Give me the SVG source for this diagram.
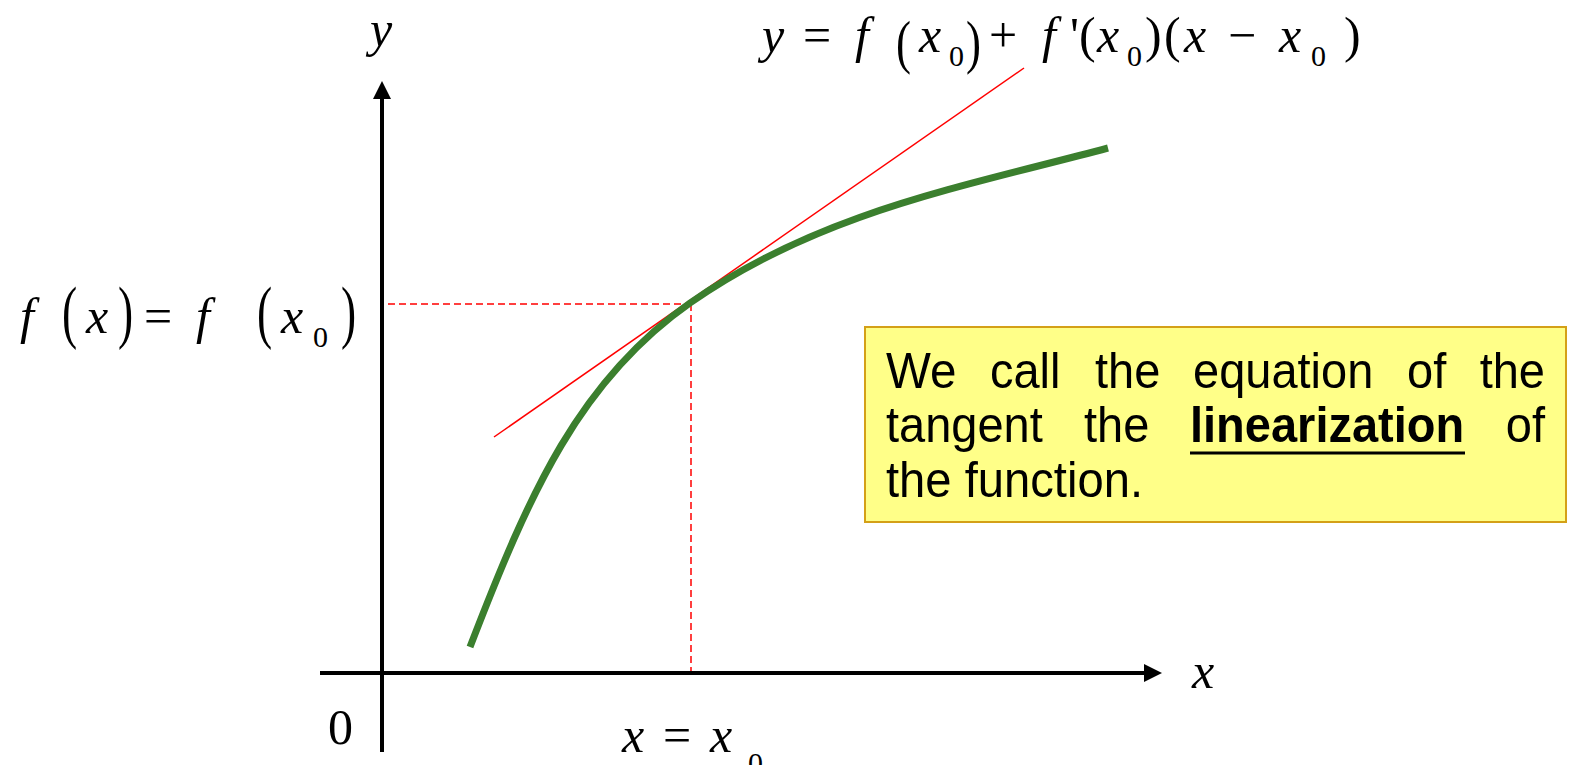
<svg xmlns="http://www.w3.org/2000/svg" width="1572" height="765" viewBox="0 0 1572 765">
<style>
.m{font-family:"Liberation Serif",serif;font-style:italic;font-size:50px;fill:#000}
.u{font-family:"Liberation Serif",serif;font-size:50px;fill:#000}
.s{font-family:"Liberation Serif",serif;font-size:30px;fill:#000}
.bp{font-family:"Liberation Serif",serif;font-size:60px;fill:#000}
.bl{font-family:"Liberation Serif",serif;font-size:70px;fill:#000}
.t{font-family:"Liberation Sans",Arial,sans-serif;font-size:50px;fill:#000}
.axis{stroke:#000;stroke-width:4;fill:none}
.dash{stroke:#FF0000;stroke-width:1.5;stroke-dasharray:7,4;fill:none}
</style>
<rect width="1572" height="765" fill="#fff"/>
<g id="axes">
<line class="axis" x1="382" y1="752" x2="382" y2="95"/>
<polygon points="382,81 373,99 391,99" fill="#000"/>
<line class="axis" x1="320" y1="673" x2="1147" y2="673"/>
<polygon points="1162,673 1144,664 1144,682" fill="#000"/>
</g>
<g id="guides">
<line class="dash" x1="388" y1="304" x2="691" y2="304"/>
<line class="dash" x1="691" y1="304" x2="691" y2="671"/>
</g>
<g id="tangent">
<line x1="494" y1="437" x2="1024" y2="68" stroke="#FF0000" stroke-width="1.5"/>
</g>
<g id="curve">
<path d="M470,647 C530,491 580,380 690,303 C820,212.5 958,188 1108,148" fill="none" stroke="#3B7F2E" stroke-width="7"/>
</g>
<g id="labels">
<text class="m" x="370" y="46">y</text>
<text class="m" x="1192" y="688">x</text>
<text class="u" x="328" y="744">0</text>
<text class="m" x="622" y="752">x</text>
<text class="u" x="663" y="752">=</text>
<text class="m" x="710" y="752">x</text>
<text class="s" x="748" y="773">0</text>
</g>
<g id="eq-left">
<text class="m" x="20" y="333">f</text>
<text class="bl" transform="translate(62,335) scale(0.65,1)">(</text>
<text class="m" x="86" y="333">x</text>
<text class="bl" transform="translate(118,335) scale(0.65,1)">)</text>
<text class="u" x="144" y="333">=</text>
<text class="m" x="196" y="333">f</text>
<text class="bl" transform="translate(257,335) scale(0.65,1)">(</text>
<text class="m" x="281" y="333">x</text>
<text class="s" x="313" y="347">0</text>
<text class="bl" transform="translate(341,335) scale(0.65,1)">)</text>
</g>
<g id="eq-top">
<text class="m" x="762" y="52">y</text>
<text class="u" x="803" y="52">=</text>
<text class="m" x="855" y="52">f</text>
<text class="bp" transform="translate(896,62) scale(0.75,1)">(</text>
<text class="m" x="919" y="52">x</text>
<text class="s" x="949" y="66">0</text>
<text class="bp" transform="translate(966,62) scale(0.75,1)">)</text>
<text class="u" x="989" y="52">+</text>
<text class="m" x="1042" y="52">f</text>
<text class="u" x="1070" y="52">'</text>
<text class="u" x="1079" y="52">(</text>
<text class="m" x="1097" y="52">x</text>
<text class="s" x="1127" y="66">0</text>
<text class="u" x="1145" y="52">)</text>
<text class="u" x="1164" y="52">(</text>
<text class="m" x="1184" y="52">x</text>
<text class="u" x="1228" y="52">−</text>
<text class="m" x="1279" y="52">x</text>
<text class="s" x="1311" y="66">0</text>
<text class="u" x="1344" y="52">)</text>
</g>
<g id="note">
<rect x="865" y="327" width="701" height="195" fill="#FFFF88" stroke="#D4A017" stroke-width="2"/>
<text class="t" x="886" y="388" textLength="70.5" lengthAdjust="spacingAndGlyphs">We</text>
<text class="t" x="990" y="388" textLength="70.5" lengthAdjust="spacingAndGlyphs">call</text>
<text class="t" x="1095" y="388" textLength="65.3" lengthAdjust="spacingAndGlyphs">the</text>
<text class="t" x="1193" y="388" textLength="180.3" lengthAdjust="spacingAndGlyphs">equation</text>
<text class="t" x="1407" y="388" textLength="39.2" lengthAdjust="spacingAndGlyphs">of</text>
<text class="t" x="1479.7" y="388" textLength="65.3" lengthAdjust="spacingAndGlyphs">the</text>
<text class="t" x="886" y="442" textLength="156.8" lengthAdjust="spacingAndGlyphs">tangent</text>
<text class="t" x="1084" y="442" textLength="65.3" lengthAdjust="spacingAndGlyphs">the</text>
<text class="t" x="1190" y="442" font-weight="bold" textLength="274.2" lengthAdjust="spacingAndGlyphs">linearization</text>
<line x1="1190" y1="453" x2="1465" y2="453" stroke="#000" stroke-width="3"/>
<text class="t" x="1505.8" y="442" textLength="39.2" lengthAdjust="spacingAndGlyphs">of</text>
<text class="t" x="886" y="497" textLength="257" lengthAdjust="spacingAndGlyphs">the function.</text>
</g>
</svg>
